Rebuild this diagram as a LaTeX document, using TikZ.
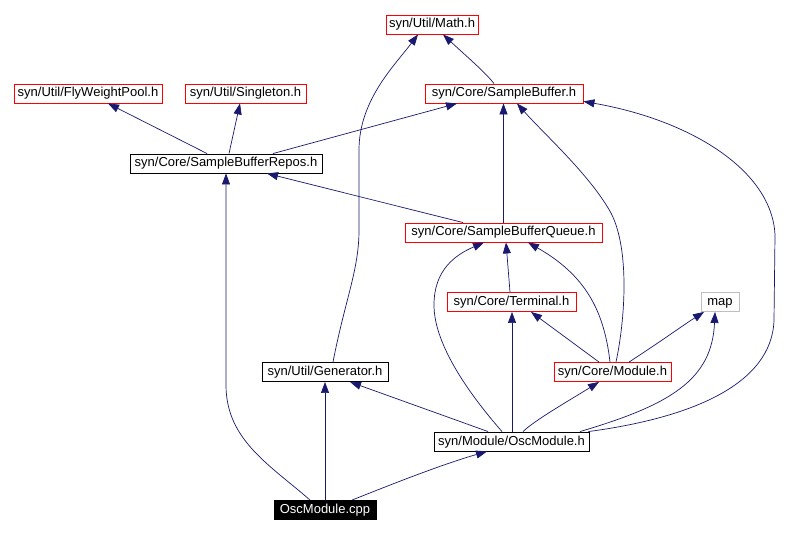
\documentclass[tikz,border=0pt]{standalone}
\usepackage{fontspec}
\setmainfont{Liberation Sans}
\usetikzlibrary{arrows.meta}
\definecolor{edgecol}{HTML}{191970}
\definecolor{mapgray}{HTML}{BFBFBF}
\begin{document}
\begin{tikzpicture}[x=1pt,y=-1pt,
  box/.style={draw, line width=0.9pt, rectangle, inner sep=0pt, minimum height=19pt,
    text height=9.6pt, text depth=2.6pt,
    font=\fontsize{13}{15}\selectfont, text=black},
  redbox/.style={box, draw=red},
  blackbox/.style={box, draw=black},
  graybox/.style={box, draw=mapgray},
  rootbox/.style={box, draw=black, fill=black, text=white},
  dep/.style={draw=edgecol, line width=0.7pt, -{Triangle[length=11pt,width=8pt]}, fill=none},
]
\useasboundingbox (0,0) rectangle (802,534);
\fill[white] (0,0) rectangle (802,534);

\node[redbox, minimum width=92pt] (Math) at (432,24.5) {syn/Util/Math.h};
\node[redbox, minimum width=148pt] (FWP) at (88,93.5) {syn/Util/FlyWeightPool.h};
\node[redbox, minimum width=121pt] (Sing) at (245.5,93.5) {syn/Util/Singleton.h};
\node[redbox, minimum width=158pt] (SB) at (504,93.5) {syn/Core/SampleBuffer.h};
\node[blackbox, minimum width=192pt] (Repos) at (226,163.5) {syn/Core/SampleBufferRepos.h};
\node[redbox, minimum width=197pt] (SBQ) at (503.5,232.5) {syn/Core/SampleBufferQueue.h};
\node[redbox, minimum width=129pt] (Term) at (511.5,302) {syn/Core/Terminal.h};
\node[graybox, minimum width=38pt] (map) at (720,302) {map};
\node[blackbox, minimum width=126pt] (Gen) at (325,372) {syn/Util/Generator.h};
\node[redbox, minimum width=117pt] (Mod) at (612.5,372) {syn/Core/Module.h};
\node[blackbox, minimum width=155pt] (Osc) at (511.5,441.5) {syn/Module/OscModule.h};
\node[rootbox, minimum width=102pt] (cpp) at (325,510) {OscModule.cpp};

% SampleBuffer -> Math
\draw[dep] ([xshift=-10pt]SB.north) .. controls (485,72) and (465,55) .. ([xshift=11pt]Math.south);
% Generator -> Math
\draw[dep] ([xshift=8pt]Gen.north) .. controls (345,300) and (359,270) .. (359,230) -- (359,150)
  .. controls (359,100) and (395,65) .. ([xshift=-14pt]Math.south);
% Repos -> FlyWeightPool
\draw[dep] ([xshift=-19pt]Repos.north) -- ([xshift=20pt]FWP.south);
% Repos -> Singleton
\draw[dep] ([xshift=3pt]Repos.north) -- ([xshift=-5.5pt]Sing.south);
% Repos -> SampleBuffer
\draw[dep] ([xshift=47pt]Repos.north) -- ([xshift=-47pt]SB.south);
% SBQ -> Repos
\draw[dep] ([xshift=-40.5pt]SBQ.north) -- ([xshift=41pt]Repos.south);
% SBQ -> SampleBuffer
\draw[dep] ([xshift=0pt]SBQ.north) -- ([xshift=-0.5pt]SB.south);
% Module -> SampleBuffer
\draw[dep] ([xshift=3.5pt]Mod.north) .. controls (625,320) and (630,250) .. (611,213)
  .. controls (590,175) and (545,135) .. ([xshift=13pt]SB.south);
% OscModule.h -> SampleBuffer
\draw[dep] ([xshift=-1pt]Osc.north east) .. controls (690,418) and (772,385) .. (774,320)
  -- (775,235) .. controls (772,170) and (690,120) .. ([yshift=2pt]SB.south east);
% Terminal -> SBQ
\draw[dep] ([xshift=-1.5pt]Term.north) -- ([xshift=2.5pt]SBQ.south);
% OscModule.h -> SBQ
\draw[dep] ([xshift=-9.5pt]Osc.north) .. controls (470,395) and (434,345) .. (434,305)
  .. controls (434,270) and (455,255) .. ([xshift=-19.5pt]SBQ.south);
% Module -> SBQ
\draw[dep] ([xshift=-2.5pt]Mod.north) .. controls (604,310) and (585,275) .. ([xshift=24.5pt]SBQ.south);
% Module -> Terminal
\draw[dep] ([xshift=-13.5pt]Mod.north) -- ([xshift=19.5pt]Term.south);
% OscModule.h -> Terminal
\draw[dep] ([xshift=0.5pt]Osc.north) -- ([xshift=0.5pt]Term.south);
% Module -> map
\draw[dep] ([xshift=16.5pt]Mod.north) .. controls (660,342) and (682,326) .. ([xshift=-16pt]map.south);
% OscModule.h -> map
\draw[dep] ([xshift=68.5pt]Osc.north) .. controls (670,405) and (712,380) .. ([xshift=-5pt]map.south);
% OscModule.h -> Module
\draw[dep] ([xshift=11.5pt]Osc.north) .. controls (535,420) and (570,400) .. ([xshift=-13.5pt]Mod.south);
% OscModule.h -> Generator
\draw[dep] ([xshift=-23.5pt]Osc.north) -- ([xshift=25pt]Gen.south);
% cpp -> OscModule.h
\draw[dep] ([xshift=27pt]cpp.north) .. controls (390,485) and (440,465) .. ([xshift=-24.5pt]Osc.south);
% cpp -> Generator
\draw[dep] (cpp.north) -- (Gen.south);
% cpp -> Repos
\draw[dep] ([xshift=-15pt]cpp.north) .. controls (270,465) and (226,440) .. (226,385) -- (Repos.south);
\end{tikzpicture}
\end{document}
